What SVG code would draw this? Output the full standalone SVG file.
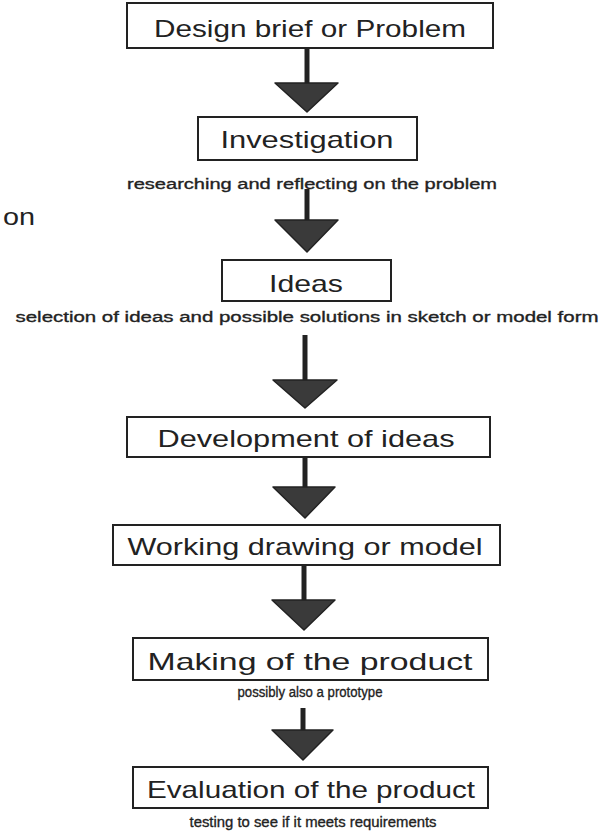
<svg xmlns="http://www.w3.org/2000/svg" width="614" height="837" viewBox="0 0 614 837">
<style>
.box{fill:#fff;stroke:#222;stroke-width:2}
.t{font-family:"Liberation Sans","DejaVu Sans",sans-serif;font-size:24px;fill:#222;text-anchor:middle}
.s{font-family:"Liberation Sans","DejaVu Sans",sans-serif;font-size:15.5px;fill:#222;stroke:#222;stroke-width:0.35;text-anchor:middle}
.shaft{stroke:#222;stroke-width:5}
.head{fill:#3a3a3a;stroke:#222;stroke-width:1.5;stroke-linejoin:round}
</style>
<rect width="614" height="837" fill="#fff"/>
<g id="connectors">
<line class="shaft" x1="307" y1="48" x2="307" y2="84"/>
<polygon class="head" points="275,83 338,83 307,112"/>
<line class="shaft" x1="307" y1="189" x2="307" y2="221"/>
<polygon class="head" points="275,220 338,220 307,252"/>
<line class="shaft" x1="305" y1="335" x2="305" y2="381"/>
<polygon class="head" points="273,380 337,380 305,408"/>
<line class="shaft" x1="305" y1="457" x2="305" y2="488"/>
<polygon class="head" points="273,487 335,487 305,518"/>
<line class="shaft" x1="304" y1="565" x2="304" y2="601"/>
<polygon class="head" points="272,600 335,600 304,630"/>
<line class="shaft" x1="303" y1="708" x2="303" y2="731"/>
<polygon class="head" points="272,730 333,730 303,760"/>
</g>
<g id="n1">
<rect class="box" x="127" y="3" width="366" height="45"/>
<text class="t" x="310" y="37" textLength="312" lengthAdjust="spacingAndGlyphs">Design brief or Problem</text>
</g>
<g id="n2">
<rect class="box" x="198" y="117" width="219" height="43"/>
<text class="t" x="307" y="148" textLength="173" lengthAdjust="spacingAndGlyphs">Investigation</text>
<text class="s" x="312" y="189" textLength="370" lengthAdjust="spacingAndGlyphs">researching and reflecting on the problem</text>
</g>
<g id="n3">
<rect class="box" x="222" y="260" width="169" height="41"/>
<text class="t" x="306" y="292" textLength="74" lengthAdjust="spacingAndGlyphs">Ideas</text>
<text class="s" x="307" y="322" textLength="583" lengthAdjust="spacingAndGlyphs">selection of ideas and possible solutions in sketch or model form</text>
</g>
<g id="n4">
<rect class="box" x="127" y="417" width="363" height="40"/>
<text class="t" x="306" y="447" textLength="297" lengthAdjust="spacingAndGlyphs">Development of ideas</text>
</g>
<g id="n5">
<rect class="box" x="113" y="525" width="387" height="40"/>
<text class="t" x="305" y="555" textLength="355" lengthAdjust="spacingAndGlyphs">Working drawing or model</text>
</g>
<g id="n6">
<rect class="box" x="133" y="638" width="355" height="42"/>
<text class="t" x="310" y="670" textLength="325" lengthAdjust="spacingAndGlyphs">Making of the product</text>
<text class="s" x="310" y="697" textLength="145" lengthAdjust="spacingAndGlyphs">possibly also a prototype</text>
</g>
<g id="n7">
<rect class="box" x="133" y="767" width="355" height="41"/>
<text class="t" x="311" y="798" textLength="328" lengthAdjust="spacingAndGlyphs">Evaluation of the product</text>
<text class="s" x="313" y="827" textLength="247" lengthAdjust="spacingAndGlyphs">testing to see if it meets requirements</text>
</g>
<text class="t" x="3" y="225" style="text-anchor:start" textLength="32" lengthAdjust="spacingAndGlyphs">on</text>
</svg>
